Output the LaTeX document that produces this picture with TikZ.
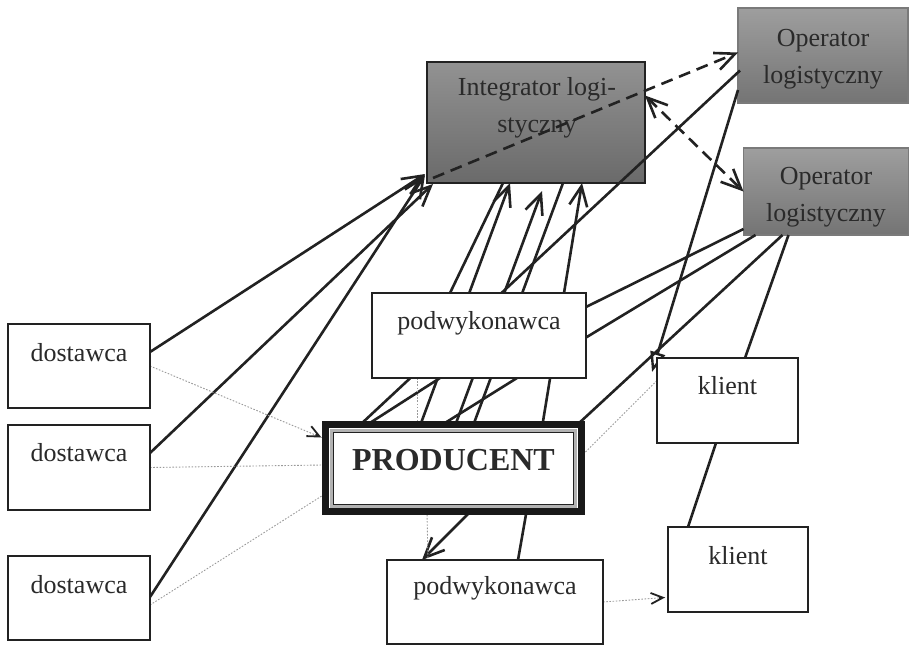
\documentclass[tikz,border=0pt]{standalone}
\usepackage{fontspec}
\setmainfont{Liberation Serif}
\usetikzlibrary{arrows.meta,calc}
\pgfdeclarelayer{bottom}
\pgfdeclarelayer{mid}
\pgfsetlayers{bottom,mid,main}
\definecolor{ink}{HTML}{222222}
\definecolor{txt}{HTML}{2A2A2A}
\definecolor{dotc}{HTML}{9A9A9A}
\definecolor{igtop}{HTML}{929292}
\definecolor{igbot}{HTML}{6A6A6A}
\definecolor{optop}{HTML}{9E9E9E}
\definecolor{opbot}{HTML}{747474}
\definecolor{opdraw}{HTML}{7A7A7A}
\tikzset{
  box/.style={draw=ink, line width=2.6pt, fill=white, inner sep=0pt, outer sep=0pt},
  graybox/.style={draw=ink, line width=2.6pt, top color=igtop, bottom color=igbot, inner sep=0pt, outer sep=0pt},
  opbox/.style={draw=opdraw, line width=1.8pt, top color=optop, bottom color=opbot, inner sep=0pt, outer sep=0pt},
  lbl/.style={text=txt, font=\fontsize{26}{37}\selectfont, align=center, inner sep=0pt},
  conn/.style={draw=ink, line width=2.6pt},
  bigtip/.tip={Straight Barb[length=20pt,width=18pt,line width=2.6pt]},
  tip/.style={-bigtip},
  arr/.style={conn, tip},
  openarr/.style={conn, -{Triangle[open,length=20pt,width=15pt,line width=2.4pt]}},
  dotl/.style={draw=dotc, line width=0.9pt, dash pattern=on 1.6pt off 1.6pt},
  dotarr/.style={line width=1.8pt, -{Straight Barb[length=12pt,width=11pt,line width=1.8pt]}},
  dsh/.style={draw=ink, line width=2.6pt, dash pattern=on 12pt off 7pt},
}
\begin{document}
\begin{tikzpicture}[x=1pt,y=-1pt]
\useasboundingbox (0,0) rectangle (910,646);
% gray boxes
\begin{pgfonlayer}{bottom}
\node[graybox, minimum width=218pt, minimum height=121pt] (integ) at (536,122.5) {};
\node[opbox, minimum width=170pt, minimum height=95pt] (op1) at (823,55.5) {};
\node[opbox, minimum width=165pt, minimum height=87pt] (op2) at (826,191.5) {};
\end{pgfonlayer}
\node[lbl] (integt) at (537,108) {Integrator logi-\\styczny};
\node[lbl] (op1t) at (823,59) {Operator\\logistyczny};
\node[lbl] (op2t) at (826,197) {Operator\\logistyczny};
% white boxes
\node[box, minimum width=214pt, minimum height=85pt] (podt) at (479,335.5) {};
\node[lbl] (podtt) at (479,323) {podwykonawca};
\node[draw=black!90, line width=7.5pt, fill=white, inner sep=0pt, outer sep=0pt, minimum width=256pt, minimum height=87pt] (prod) at (453.5,468) {};
\node[draw=gray!60, line width=3.5pt, inner sep=0pt, minimum width=244pt, minimum height=76pt] (prodmid) at (453.5,468.5) {};
\node[draw=ink, line width=1.3pt, inner sep=0pt, minimum width=240pt, minimum height=72pt] (prodin) at (453.5,468.5) {};
\node[lbl, font=\fontsize{32}{38}\selectfont\bfseries] (prodt) at (453.5,460) {PRODUCENT};
\node[box, minimum width=216pt, minimum height=84pt] (podb) at (495,602) {};
\node[lbl] (podbt) at (495,588) {podwykonawca};
\node[box, minimum width=141pt, minimum height=85pt] (k1) at (727.5,400.5) {};
\node[lbl] (k1t) at (727.5,386) {klient};
\node[box, minimum width=140pt, minimum height=85pt] (k2) at (738,569.5) {};
\node[lbl] (k2t) at (738,556) {klient};
\node[box, minimum width=142pt, minimum height=84pt] (d1) at (79,366) {};
\node[lbl] (d1t) at (79,353) {dostawca};
\node[box, minimum width=142pt, minimum height=85pt] (d2) at (79,467.5) {};
\node[lbl] (d2t) at (79,453) {dostawca};
\node[box, minimum width=142pt, minimum height=84pt] (d3) at (79,598) {};
\node[lbl] (d3t) at (79,585) {dostawca};
% connectors
\begin{pgfonlayer}{mid}
% dostawcy -> integrator
\draw[arr] ($(d1.north east)+(0,28)$) -- ($(integ.south west)+(-2,-9)$);
\draw[arr] ($(d2.north east)+(0,28)$) -- ($(integ.south west)+(6,1)$);
\draw[arr] ($(d3.north east)+(0,41)$) -- ($(integ.south west)+(-2,-8)$);
% dotted dostawcy -> producent
\draw[dotl] (d1.east) -- ($(prod.north west)+(-4,13)$);
\draw[dotl] (d2.east) -- ($(prod.west)+(-3,-3)$);
\draw[dotl] ($(d3.east)+(0,7)$) -- ($(prod.south west)+(-3,-16)$);
% operator 1 -> producent
\draw[conn] ($(op1.west)+(2,15)$) -- ($(prod.north west)+(35,0)$);
% producent -> podwykonawca
\draw[conn] ($(prod.north west)+(42,0)$) -- ($(podt.south west)+(68,0)$);
\draw[conn] ($(prod.north west)+(117,0)$) -- ($(podt.south west)+(145,0)$);
% producent -> integrator
\draw[arr] ($(prod.north west)+(95,0)$) -- ($(integ.south west)+(83,0)$);
\draw[arr] ($(prod.north west)+(130,0)$) -- ($(integ.south west)+(115,8)$);
\draw[conn] ($(prod.north west)+(148,0)$) -- ($(integ.south west)+(136,0)$);
\draw[arr] ($(prod.north west)+(217,0)$) -- ($(integ.south west)+(155,0)$);
\draw[conn] ($(podt.north west)+(78,0)$) -- ($(integ.south west)+(76,0)$);
% to operator 2
\draw[conn] ($(prod.north east)+(-4,0)$) -- ($(op2.south west)+(39,0)$);
\draw[conn] ($(podt.north east)+(0,14)$) -- ($(op2.south west)+(0,-6)$);
\draw[conn] ($(podt.east)+(0,2)$) -- ($(op2.south west)+(12,0)$);
\draw[conn] ($(k1.north west)+(88,0)$) -- ($(op2.south west)+(45,0)$);
% operator 1 -> klient
\draw[openarr] ($(op1.south west)+(0,-13)$) -- ($(k1.north west)+(-5,14)$);
% klient -> klient
\draw[conn] ($(k1.south west)+(59,0)$) -- ($(k2.north west)+(20,0)$);
% producent -> podwykonawca (bottom)
\draw[arr] ($(prod.south west)+(145,0)$) -- ($(podb.north west)+(35,0)$);
\draw[conn] ($(podb.north west)+(131,0)$) -- ($(prod.south west)+(201,0)$);
% dotted
\draw[dotl] ($(podt.south west)+(45,0)$) -- ($(prod.north west)+(91.5,0)$);
\draw[dotl] ($(prod.south west)+(101.5,0)$) -- ($(podb.north west)+(41,3)$);
\draw[dotl] (podb.east) -- ($(k2.west)+(-3,28)$);
\draw[dotl] ($(prod.east)+(4,-16)$) -- ($(k1.west)+(0,-20)$);
\end{pgfonlayer}
% small tips of the dotted arrows
\draw[dotarr, draw=ink] ($(prod.north west)+(-10,10)$) -- ($(prod.north west)+(-4,13)$);
\draw[dotarr, draw=ink] ($(k2.west)+(-9,28.4)$) -- ($(k2.west)+(-3,28)$);
% dashed
\draw[dsh, tip] ($(integ.south west)+(6,-5)$) -- ($(op1.west)+(0,-3)$);
\draw[dsh, bigtip-bigtip] ($(integ.east)+(0,-27)$) -- (op2.west);
\end{tikzpicture}
\end{document}
